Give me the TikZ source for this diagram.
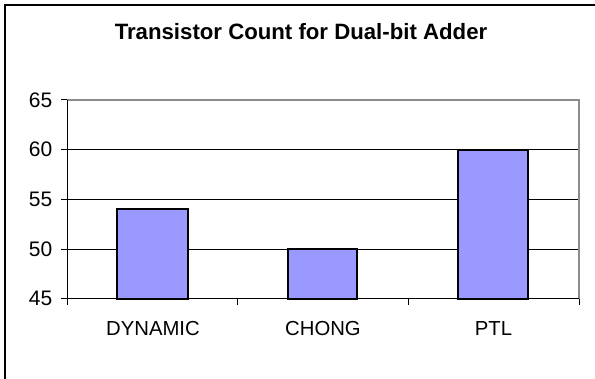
\documentclass[tikz,border=0pt]{standalone}
\usepackage{fontspec}
\setmainfont{Liberation Sans}
\begin{document}
\begin{tikzpicture}[x=1pt,y=-1pt,
  bar/.style={draw=black,line width=1.8pt,fill=barblue},
  grid/.style={draw=black,line width=0.9pt},
  frame/.style={draw=black!45,line width=1.2pt},
  axis/.style={draw=black,line width=1pt},
  lbl/.style={font=\fontsize{20.3}{23}\selectfont,inner sep=0pt},
  num/.style={font=\fontsize{21}{24}\selectfont,inner sep=0pt},
  ttl/.style={font=\bfseries\fontsize{22.2}{25}\selectfont,inner sep=0pt}]
\definecolor{barblue}{HTML}{9999FF}
\useasboundingbox (0,0) rectangle (595,378);
\clip (0,0) rectangle (595,378);
\fill[white] (0,0) rectangle (595,378);
\draw[line width=1.6pt] (5,5) rectangle (610,390);
% title
\node[ttl,anchor=base] (title) at (301,39) {Transistor Count for Dual-bit Adder};
% gridlines
\foreach \v in {50,55,60}{
  \draw[grid] (67,{298.7-(\v-45)*9.94}) -- (579,{298.7-(\v-45)*9.94});
}
% plot frame
\draw[frame] (67,99.9) -- (579,99.9) -- (579,298.7);
% bars
\draw[bar] (117.3,298.7) rectangle (187.7,{298.7-9*9.94});
\draw[bar] (288.3,298.7) rectangle (357.3,{298.7-5*9.94});
\draw[bar] (458.3,298.7) rectangle (528.3,{298.7-15*9.94});
% axes
\draw[axis] (67,99.9) -- (67,298.7) -- (579,298.7);
\foreach \v in {45,50,55,60,65}{
  \draw[axis] (61,{298.7-(\v-45)*9.94}) -- (67,{298.7-(\v-45)*9.94});
  \node[num,anchor=east] (y\v) at (52.5,{298.7-(\v-45)*9.94}) {\v};
}
\foreach \x in {67,237.7,408.3,579}{
  \draw[axis] (\x,298.7) -- (\x,304.5);
}
\node[lbl] (c1) at (153,328.5) {DYNAMIC};
\node[lbl] (c2) at (323,328.5) {CHONG};
\node[lbl] (c3) at (493.5,328.5) {PTL};
\end{tikzpicture}
\end{document}
